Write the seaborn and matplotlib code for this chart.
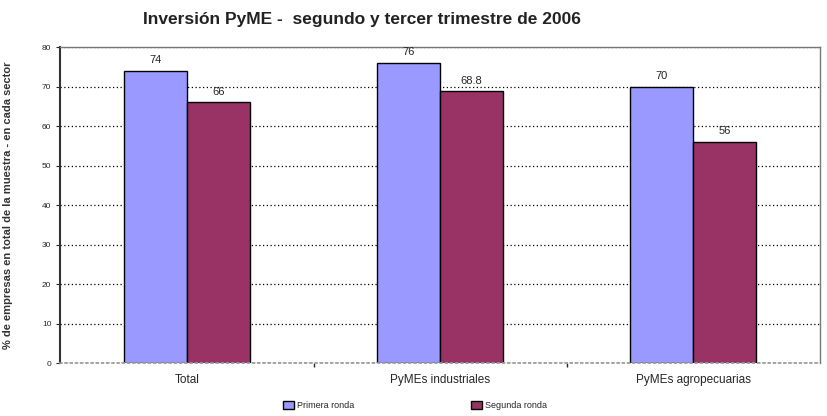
import pandas as pd
import numpy as np
import seaborn as sns
import matplotlib.pyplot as plt

categories = ["Total", "PyMEs industriales", "PyMEs agropecuarias"]
series = ["Primera ronda", "Segunda ronda"]
primera = [74, 76, 70]
segunda = [66, 68.8, 56]
labels_primera = ["74", "76", "70"]
labels_segunda = ["66", "68.8", "56"]

df = pd.DataFrame({
    "categoria": categories * 2,
    "ronda": [series[0]] * 3 + [series[1]] * 3,
    "valor": primera + segunda,
})

sns.set_theme(style="white")
plt.rcParams['font.family'] = ['Liberation Sans', 'DejaVu Sans']

fig, ax = plt.subplots(figsize=(8.28, 4.16), dpi=100)
fig.subplots_adjust(left=0.073, right=0.99, top=0.887, bottom=0.127)

sns.barplot(data=df, x="categoria", y="valor", hue="ronda",
            palette=["#9999FF", "#993366"], width=0.5,
            edgecolor="black", linewidth=1, saturation=1, ax=ax)

for cont, labs in zip(ax.containers, [labels_primera, labels_segunda]):
    ax.bar_label(cont, labels=labs, padding=4, fontsize=8)

ax.set_ylim(0, 80)
ax.set_yticks(np.arange(0, 81, 10))
ax.set_xlim(-0.5, 2.5)
ax.tick_params(axis='y', labelsize=6, length=3, left=True, width=0.8)
ax.tick_params(axis='x', labelsize=8.5, length=0, pad=8)
ax.set_xticks([0.5, 1.5], minor=True)
ax.tick_params(axis='x', which='minor', length=3, bottom=True)
ax.yaxis.grid(True, linestyle=(0, (1, 2)), color="black", linewidth=0.9)
ax.set_axisbelow(True)

for s in ["top", "right"]:
    ax.spines[s].set_color("#777777")
    ax.spines[s].set_linewidth(1)
ax.spines["left"].set_color("#333333")
ax.spines["left"].set_linewidth(1.5)
ax.spines["bottom"].set_color("#999999")
ax.spines["bottom"].set_linestyle((0, (1, 2)))

ax.set_xlabel("")
ax.set_ylabel("% de empresas en total de la muestra - en cada sector",
              fontsize=8, fontweight="bold", color="#333333")
ax.yaxis.set_label_coords(-0.062, 0.5)

fig.suptitle("Inversión PyME -  segundo y tercer trimestre de 2006",
             x=0.437, y=0.972, fontsize=12.5, fontweight="bold", color="#222222")

ax.legend(loc="upper center", bbox_to_anchor=(0.467, -0.095), ncol=2,
          frameon=False, fontsize=6.5, handlelength=1.2, handleheight=0.9,
          columnspacing=13, handletextpad=0.3)

plt.savefig("out.png", dpi=100)
